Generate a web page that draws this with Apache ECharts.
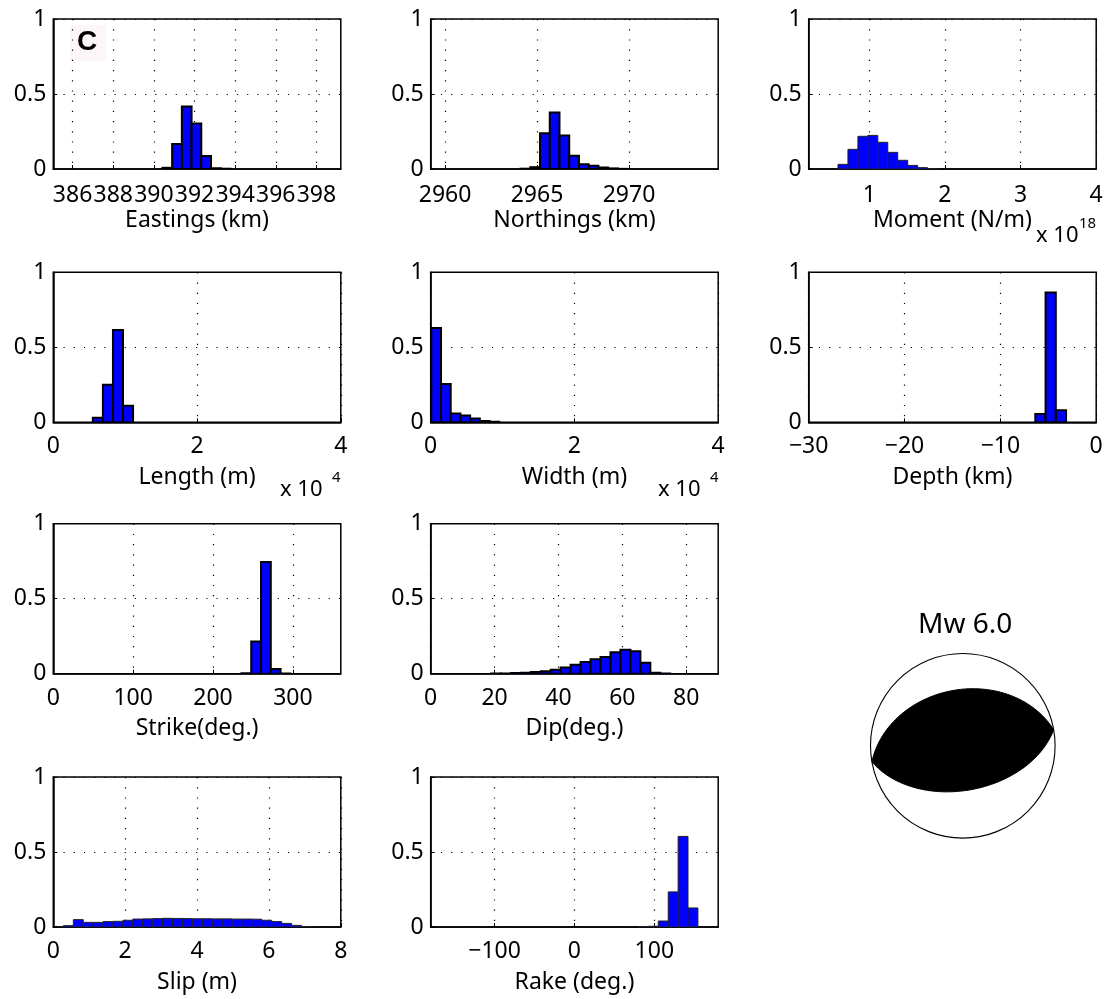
<!doctype html>
<html>
<head>
<meta charset="utf-8">
<title>Posterior histograms</title>
<script src="https://cdn.jsdelivr.net/npm/echarts@6/dist/echarts.min.js"></script>
</head>
<style>
  html, body { margin: 0; padding: 0; background: #fff; }
  #main { width: 1107px; height: 999px; }
</style>
<body>
<div id="main"></div>
<script>
// bins: centre of first bin and bin width; freq: normalised counts per bin
var eastBins = { first: 390.66, width: 0.478 };
var eastFreq = [0.008, 0.167, 0.416, 0.304, 0.087, 0.005, 0.002];
var eastTicks = [386, 388, 390, 392, 394, 396, 398];

var northBins = { first: 2964.37, width: 0.529 };
var northFreq = [0.002, 0.012, 0.238, 0.376, 0.224, 0.089, 0.031, 0.022, 0.01, 0.004, 0.001];
var northTicks = [2960, 2965, 2970];

var momentBins = { first: 0.653, width: 0.1316 };
var momentFreq = [0.031, 0.131, 0.218, 0.224, 0.178, 0.111, 0.058, 0.024, 0.009, 0.003];
var momentTicks = [1, 2, 3, 4];

var lengthBins = { first: 0.62, width: 0.14 };
var lengthFreq = [0.031, 0.25, 0.615, 0.11];
var lengthTicks = [0, 2, 4];

var widthBins = { first: 0.076, width: 0.135 };
var widthFreq = [0.629, 0.255, 0.058, 0.045, 0.025, 0.009, 0.003];
var widthTicks = [0, 2, 4];

var depthBins = { first: -5.82, width: 1.07 };
var depthFreq = [0.056, 0.866, 0.08];
var depthTicks = [-30, -20, -10, 0];

var strikeBins = { first: 241.7, width: 12.25 };
var strikeFreq = [0.003, 0.214, 0.744, 0.031, 0.002];
var strikeTicks = [0, 100, 200, 300];

var dipBins = { first: 20.4, width: 3.12 };
var dipFreq = [0.001, 0.002, 0.004, 0.007, 0.011, 0.016, 0.027, 0.042, 0.06, 0.078, 0.096,
               0.111, 0.143, 0.16, 0.149, 0.073, 0.007, 0.002];
var dipTicks = [0, 20, 40, 60, 80];

var slipBins = { first: 0.42, width: 0.276 };
var slipFreq = [0.009, 0.049, 0.031, 0.031, 0.036, 0.038, 0.045, 0.053, 0.054, 0.056, 0.058, 0.057,
                0.056, 0.055, 0.055, 0.054, 0.054, 0.053, 0.053, 0.052, 0.045, 0.036, 0.024, 0.011, 0.003];
var slipTicks = [0, 2, 4, 6, 8];

var rakeBins = { first: 86.4, width: 12.4 };
var rakeFreq = [0.002, 0.005, 0.04, 0.234, 0.604, 0.127];
var rakeTicks = [-100, 0, 100];

// best-fit focal mechanism (two nodal planes) for the beach ball
var nodalPlanes = [{ strike: 260, dip: 39 }, { strike: 80, dip: 50 }];

var FONT = '"Noto Sans", "DejaVu Sans", sans-serif';
var FS = 23;

var panels = [
  { name: 'Eastings (km)', bins: eastBins, freq: eastFreq, range: [385.05, 399.2], ticks: eastTicks, row: 0, col: 0, edge: 2 },
  { name: 'Northings (km)', bins: northBins, freq: northFreq, range: [2959.22, 2974.85], ticks: northTicks, row: 0, col: 1, edge: 2 },
  { name: 'Moment (N/m)', bins: momentBins, freq: momentFreq, range: [0.2, 4], ticks: momentTicks, row: 0, col: 2, edge: 1 },
  { name: 'Length (m)', bins: lengthBins, freq: lengthFreq, range: [0, 4], ticks: lengthTicks, row: 1, col: 0, edge: 2 },
  { name: 'Width (m)', bins: widthBins, freq: widthFreq, range: [0, 4], ticks: widthTicks, row: 1, col: 1, edge: 2 },
  { name: 'Depth (km)', bins: depthBins, freq: depthFreq, range: [-30, 0], ticks: depthTicks, row: 1, col: 2, edge: 2 },
  { name: 'Strike(deg.)', bins: strikeBins, freq: strikeFreq, range: [0, 360], ticks: strikeTicks, row: 2, col: 0, edge: 2 },
  { name: 'Dip(deg.)', bins: dipBins, freq: dipFreq, range: [0, 90], ticks: dipTicks, row: 2, col: 1, edge: 2 },
  { name: 'Slip (m)', bins: slipBins, freq: slipFreq, range: [0, 8], ticks: slipTicks, row: 3, col: 0, edge: 1 },
  { name: 'Rake (deg.)', bins: rakeBins, freq: rakeFreq, range: [-180, 180], ticks: rakeTicks, row: 3, col: 1, edge: 1 }
];

var colLeft = [53.3, 430.7, 808.7];
var rowTop = [19, 272.3, 523.7, 777];
var plotW = 287.5, plotH = 150;

function fmt(v) {
  return String(v).replace('-', '\u2212');
}

var grids = [], xAxes = [], yAxes = [], series = [];

panels.forEach(function (p, i) {
  grids.push({
    left: colLeft[p.col], top: rowTop[p.row], width: plotW, height: plotH,
    show: true, borderColor: '#000', borderWidth: 1.5, backgroundColor: 'transparent',
    outerBoundsMode: 'none'
  });
  xAxes.push({
    type: 'value', gridIndex: i, min: p.range[0], max: p.range[1],
    name: p.name, nameLocation: 'middle', nameGap: p.row === 0 ? 40 : 43.5,
    nameMoveOverlap: false,
    nameTextStyle: { fontSize: FS, color: '#000', fontFamily: FONT },
    axisLine: { show: true, onZero: false, lineStyle: { color: '#000', width: 1.5 } },
    axisTick: { show: true, inside: true, length: 4, customValues: p.ticks, lineStyle: { color: '#000', width: 1 } },
    axisLabel: { customValues: p.ticks, fontSize: FS, color: '#000', fontFamily: FONT,
                 margin: p.row === 0 ? 15 : 13, formatter: fmt },
    splitLine: { show: true, lineStyle: { type: [1.2, 9], color: '#000', width: 1.2 } }
  });
  yAxes.push({
    type: 'value', gridIndex: i, min: 0, max: 1, interval: 0.5,
    axisLine: { show: true, onZero: false, lineStyle: { color: '#000', width: 1.5 } },
    axisTick: { show: true, inside: true, length: 4, lineStyle: { color: '#000', width: 1 } },
    axisLabel: { fontSize: FS, color: '#000', fontFamily: FONT, margin: 7, formatter: fmt },
    splitLine: { show: true, lineStyle: { type: [1.2, 9], color: '#000', width: 1.2 } }
  });
  series.push({
    type: 'custom', xAxisIndex: i, yAxisIndex: i, clip: true,
    data: p.freq.map(function (f, k) { return [p.bins.first + k * p.bins.width, f]; }),
    renderItem: function (params, api) {
      var c = api.value(0), h = api.value(1), w = p.bins.width;
      var a = api.coord([c - w / 2, h]);
      var b = api.coord([c + w / 2, 0]);
      return {
        type: 'rect',
        shape: { x: a[0], y: a[1], width: b[0] - a[0], height: b[1] - a[1] },
        style: { fill: '#0000ff', stroke: p.edge > 1 ? '#000' : '#222', lineWidth: p.edge }
      };
    }
  });
});

// beach ball: its own square grid, unit circle
var bbIndex = panels.length;
grids.push({ left: 870.5, top: 653.5, width: 184.6, height: 184.6, show: false, outerBoundsMode: 'none' });
xAxes.push({ type: 'value', gridIndex: bbIndex, min: -1, max: 1, show: false });
yAxes.push({ type: 'value', gridIndex: bbIndex, min: -1, max: 1, show: false });

function planeTrace(pl) {
  // lower-hemisphere equal-area trace of a plane, from strike to strike+180
  var pts = [];
  var phi = pl.strike * Math.PI / 180, del = pl.dip * Math.PI / 180;
  for (var t = 0; t <= 180; t += 2) {
    var tr = t * Math.PI / 180;
    var n = Math.cos(tr) * Math.cos(phi) + Math.sin(tr) * Math.cos(phi + Math.PI / 2) * Math.cos(del);
    var e = Math.cos(tr) * Math.sin(phi) + Math.sin(tr) * Math.sin(phi + Math.PI / 2) * Math.cos(del);
    var d = Math.sin(tr) * Math.sin(del);
    var plunge = Math.asin(Math.min(1, d));
    var trend = Math.atan2(e, n);
    var r = Math.SQRT2 * Math.sin((Math.PI / 2 - plunge) / 2);
    pts.push([r * Math.sin(trend), r * Math.cos(trend)]);
  }
  return pts;
}

series.push({
  type: 'custom', xAxisIndex: bbIndex, yAxisIndex: bbIndex,
  data: [[0, 0]],
  renderItem: function (params, api) {
    var pts = planeTrace(nodalPlanes[0]).concat(planeTrace(nodalPlanes[1]));
    var poly = pts.map(function (q) { return api.coord(q); });
    var c = api.coord([0, 0]);
    var r = api.coord([1, 0])[0] - c[0];
    return {
      type: 'group',
      children: [
        { type: 'polygon', shape: { points: poly }, style: { fill: '#000', stroke: '#000', lineWidth: 1 } },
        { type: 'circle', shape: { cx: c[0], cy: c[1], r: r }, style: { fill: 'none', stroke: '#000', lineWidth: 1.1 } }
      ]
    };
  }
});

function expText(x, y, base, sup, supGap) {
  return [
    { type: 'text', left: x, top: y - 12, style: { text: base, fontSize: 22, fontFamily: FONT, fill: '#000' } },
    { type: 'text', left: x + supGap, top: y - 21, style: { text: sup, fontSize: 15, fontFamily: FONT, fill: '#000' } }
  ];
}

var graphics = [
  { type: 'rect', left: 70, top: 25, shape: { width: 36, height: 36 }, style: { fill: '#fdf6f6' } },
  { type: 'text', left: 77, top: 28, style: { text: 'C', fontSize: 28, fontWeight: 'bold', fontFamily: '"Liberation Sans", Arial, sans-serif', fill: '#000' } },
  { type: 'text', left: 918, top: 611, style: { text: 'Mw 6.0', fontSize: 28, fontFamily: FONT, fill: '#000' } }
];
graphics = graphics.concat(
  expText(280, 491, 'x 10', '4', 52),
  expText(658, 491, 'x 10', '4', 52),
  expText(1036, 237, 'x 10', '18', 43)
);

var chart = echarts.init(document.getElementById('main'));
chart.setOption({
  animation: false,
  backgroundColor: '#fff',
  grid: grids,
  xAxis: xAxes,
  yAxis: yAxes,
  series: series,
  graphic: graphics
});
</script>
</body>
</html>
